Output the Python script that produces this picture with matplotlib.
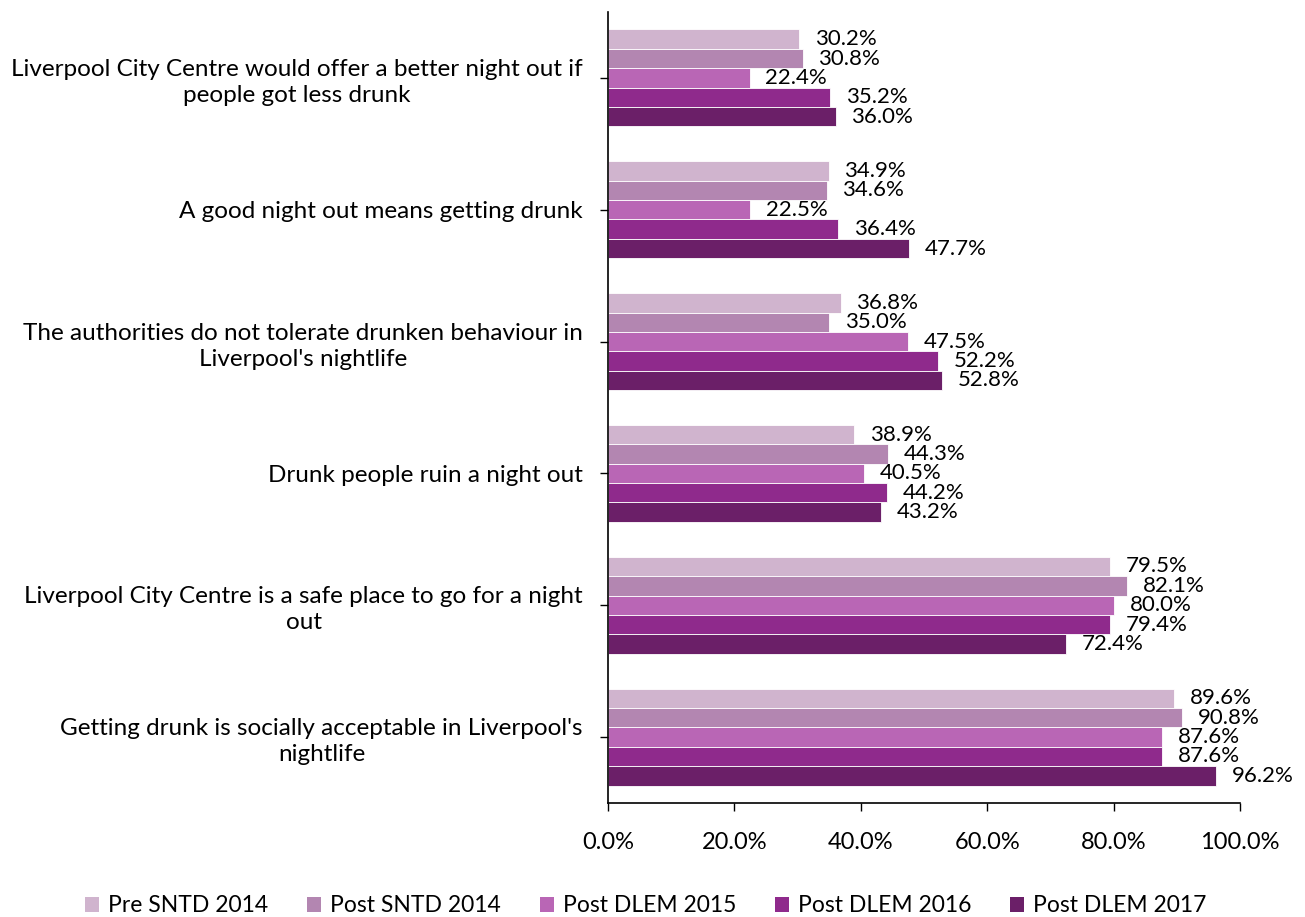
import matplotlib
matplotlib.use("Agg")
import matplotlib.pyplot as plt
import numpy as np
from matplotlib.patches import Patch

plt.rcParams['font.family'] = ['Lato', 'DejaVu Sans']

categories = [
    "Liverpool City Centre would offer a better night out if\npeople got less drunk",
    "A good night out means getting drunk",
    "The authorities do not tolerate drunken behaviour in\nLiverpool's nightlife",
    "Drunk people ruin a night out",
    "Liverpool City Centre is a safe place to go for a night\nout",
    "Getting drunk is socially acceptable in Liverpool's\nnightlife",
]
series_names = ["Pre SNTD 2014", "Post SNTD 2014", "Post DLEM 2015",
                "Post DLEM 2016", "Post DLEM 2017"]
pre_sntd_2014 = [30.2, 34.9, 36.8, 38.9, 79.5, 89.6]
post_sntd_2014 = [30.8, 34.6, 35.0, 44.3, 82.1, 90.8]
post_dlem_2015 = [22.4, 22.5, 47.5, 40.5, 80.0, 87.6]
post_dlem_2016 = [35.2, 36.4, 52.2, 44.2, 79.4, 87.6]
post_dlem_2017 = [36.0, 47.7, 52.8, 43.2, 72.4, 96.2]
colors = ["#D0B4CE", "#B386B1", "#B966B5", "#8F2A8C", "#6B1F68"]

series = [pre_sntd_2014, post_sntd_2014, post_dlem_2015, post_dlem_2016, post_dlem_2017]

fig = plt.figure(figsize=(13.05, 9.17), dpi=100)
ax = fig.add_axes([608/1305, 1 - 803/917, (1240-608)/1305, (803-12)/917])

n = len(categories)
ypos = np.arange(n)
bh = 0.147
for i, (vals, col) in enumerate(zip(series, colors)):
    offs = (i - 2) * bh
    y = ypos + offs
    ax.barh(y, vals, height=bh, color=col, edgecolor="white", linewidth=0.6)
    for yy, v in zip(y, vals):
        ax.text(v + 2.5, yy, f"{v:.1f}%", va="center", ha="left", fontsize=16)

ax.set_ylim(n - 0.5, -0.5)
ax.set_xlim(0, 100)
ax.set_xticks(np.arange(0, 101, 20))
ax.set_xticklabels([f"{t:.1f}%" for t in np.arange(0, 101, 20)], fontsize=17)
ax.set_yticks(ypos)
ax.set_yticklabels(categories, fontsize=17.5, multialignment="center", linespacing=1.3)
ax.tick_params(axis="y", length=6, width=1, pad=12)
ax.tick_params(axis="x", length=6, width=1, pad=15)
for s in ["top", "right"]:
    ax.spines[s].set_visible(False)
ax.spines["left"].set_linewidth(1.2)
ax.spines["bottom"].set_linewidth(1.2)

handles = [Patch(facecolor=c, label=l) for c, l in zip(colors, series_names)]
fig.legend(handles=handles, loc="center", bbox_to_anchor=(0.495, 1 - 906/917),
           ncol=5, frameon=False, fontsize=16.5, handlelength=0.6, handleheight=0.6,
           columnspacing=1.7, handletextpad=0.4)

fig.savefig("out.png", dpi=100)
